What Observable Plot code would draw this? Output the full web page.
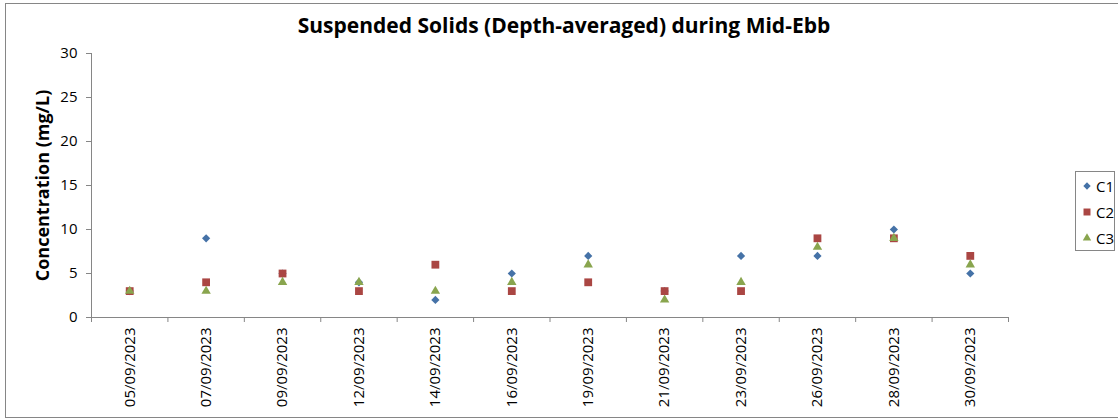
<!DOCTYPE html>
<html>
<head>
<meta charset="utf-8">
<script src="https://cdn.jsdelivr.net/npm/d3@7"></script>
<script src="https://cdn.jsdelivr.net/npm/@observablehq/plot@0.6"></script>
<style>
  html, body { margin: 0; padding: 0; background: #fff; }
  #wrap { position: relative; width: 1118px; height: 419px; font-family: "Open Sans", sans-serif; }
  #frame { position: absolute; left: 5px; top: 3px; width: 1118px; height: 415px; border: 1px solid #868686; box-sizing: border-box; pointer-events: none; }
  #title { position: absolute; left: 0; width: 1128px; top: 11px; text-align: center; font-weight: bold; font-size: 21px; color: #000; }
  #legend { position: absolute; left: 1075px; top: 171px; width: 40px; height: 80px; border: 1px solid #868686; box-sizing: border-box; font-size: 15px; }
  .item { position: absolute; left: 6px; height: 20px; display: flex; align-items: center; }
  .item svg { margin-right: 4px; }
  #chart { position: absolute; left: 0; top: 0; }
</style>
</head>
<body>
<div id="wrap">
  <div id="chart"></div>
  <div id="title">Suspended Solids (Depth-averaged) during Mid-Ebb</div>
  <div id="legend"></div>
  <div id="frame"></div>
</div>
<script>
const categories = ["05/09/2023","07/09/2023","09/09/2023","12/09/2023","14/09/2023","16/09/2023","19/09/2023","21/09/2023","23/09/2023","26/09/2023","28/09/2023","30/09/2023"];
const seriesNames = ["C1","C2","C3"];
const c1 = [3, 9, 5, 4, 2, 5, 7, 3, 7, 7, 10, 5];
const c2 = [3, 4, 5, 3, 6, 3, 4, 3, 3, 9, 9, 7];
const c3 = [3, 3, 4, 4, 3, 4, 6, 2, 4, 8, 9, 6];
const yTicks = [0, 5, 10, 15, 20, 25, 30];

const colors = {C1: "#4572A7", C2: "#AA4643", C3: "#89A54E"};
const symbols = {C1: "diamond2", C2: "square", C3: "triangle"};
const radii = {C1: 3.7, C2: 4.4, C3: 3.5};

const values = {C1: c1, C2: c2, C3: c3};
const rows = seriesNames.flatMap(s => values[s].map((v, i) => ({series: s, idx: i, cat: categories[i], value: v})));

const gray = "#868686";

const chart = Plot.plot({
  width: 1118,
  height: 419,
  marginLeft: 91,
  marginRight: 110,
  marginTop: 53,
  marginBottom: 102,
  style: {fontFamily: "Open Sans", fontSize: "15px", color: "#000", background: "transparent", overflow: "visible"},
  x: {type: "linear", domain: [0, categories.length]},
  y: {domain: [0, 30]},
  marks: [
    Plot.ruleX([0], {stroke: gray}),
    Plot.ruleY([0], {stroke: gray}),
    Plot.axisY({ticks: yTicks, tickSize: 5, tickPadding: 9, stroke: gray, fontSize: 15,
      label: "Concentration (mg/L)", labelAnchor: "center", labelArrow: "none", labelOffset: 55}),
    Plot.axisX(d3.range(categories.length + 1), {tickSize: 5, stroke: gray, tickFormat: () => "", label: null}),
    Plot.axisX(d3.range(categories.length).map(i => i + 0.5), {tickSize: 0, tickPadding: 10, tickRotate: -90,
      tickFormat: i => categories[Math.floor(i)], fontSize: 15, label: null}),
    ...seriesNames.map(s => Plot.dot(rows.filter(d => d.series === s), {
      x: d => d.idx + 0.5, y: "value", symbol: () => symbols[s], fill: colors[s], stroke: "none", r: radii[s]
    }))
  ]
});
document.getElementById("chart").appendChild(chart);

// bold y label
d3.select(chart).selectAll("text").filter(function() { return this.textContent === "Concentration (mg/L)"; })
  .style("font-weight", "bold").style("font-size", "18px");

// legend
const legend = d3.select("#legend");
const symMap = {C1: d3.symbolDiamond2, C2: d3.symbolSquare, C3: d3.symbolTriangle};
seriesNames.forEach((s, i) => {
  const item = legend.append("div").attr("class", "item").style("top", (4 + i * 26) + "px");
  const svg = item.append("svg").attr("width", 10).attr("height", 10);
  svg.append("path").attr("transform", "translate(5,5)")
    .attr("d", d3.symbol(symMap[s], Math.PI * radii[s] * radii[s] * 0.8)())
    .attr("fill", colors[s]);
  item.append("span").text(s);
});
</script>
</body>
</html>
